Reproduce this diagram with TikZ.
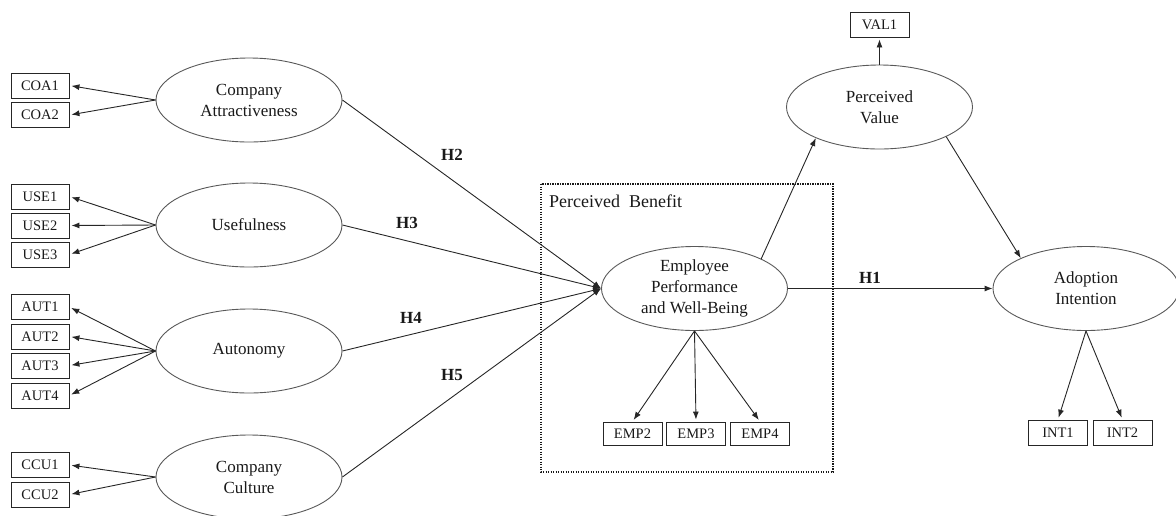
\documentclass[tikz,border=0pt]{standalone}
\usepackage{fontspec}
\setmainfont{Liberation Serif}
\usetikzlibrary{shapes.geometric,arrows.meta}
\begin{document}
\begin{tikzpicture}[x=1pt,y=-1pt,
  latent/.style={ellipse,draw=black!65,line width=0.9pt,minimum width=186pt,minimum height=84pt,
    inner sep=0pt,align=center,text=black!90,font=\fontsize{17}{21}\selectfont},
  indicator/.style={rectangle,draw=black!85,line width=0.9pt,minimum width=58pt,minimum height=25pt,
    inner sep=0pt,text=black!90,font=\fontsize{14.5}{17}\selectfont},
  link/.style={draw=black!85,line width=0.9pt,-{Latex[length=8pt,width=6pt]}},
  loading/.style={link,shorten >=2pt},
  hyp/.style={text=black!90,font=\bfseries\fontsize{17}{20}\selectfont},
  benefit/.style={draw=black!90,line width=1.4pt,dash pattern=on 1.4pt off 1.1pt}
]
\useasboundingbox (0,0) rectangle (1176,515);

% constructs
\node[latent] (ca)  at (249,100)     {Company\\Attractiveness};
\node[latent] (use) at (249,225)     {Usefulness};
\node[latent] (aut) at (249,351)     {Autonomy};
\node[latent] (ccu) at (249,477)     {Company\\Culture};
\node[latent] (emp) at (694.5,288.5) {Employee\\Performance\\and Well-Being};
\node[latent] (pv)  at (879.5,107)   {Perceived\\Value};
\node[latent] (ai)  at (1086,288.5)  {Adoption\\Intention};

% indicators
\node[indicator] (coa1) at (40,85.5)  {COA1};
\node[indicator] (coa2) at (40,115)   {COA2};
\node[indicator] (use1) at (40,196.5) {USE1};
\node[indicator] (use2) at (40,225.5) {USE2};
\node[indicator] (use3) at (40,254.5) {USE3};
\node[indicator] (aut1) at (40,307)   {AUT1};
\node[indicator] (aut2) at (40,336.5) {AUT2};
\node[indicator] (aut3) at (40,365.5) {AUT3};
\node[indicator] (aut4) at (40,395.5) {AUT4};
\node[indicator] (ccu1) at (40,465)   {CCU1};
\node[indicator] (ccu2) at (40,494.5) {CCU2};
\node[indicator,minimum width=59pt,minimum height=23pt] (emp2) at (632.5,433.5) {EMP2};
\node[indicator,minimum width=59pt,minimum height=23pt] (emp3) at (696,433.5)   {EMP3};
\node[indicator,minimum width=59pt,minimum height=23pt] (emp4) at (760,433.5)   {EMP4};
\node[indicator,minimum width=59pt] (val1) at (879.5,24.5) {VAL1};
\node[indicator,minimum width=59pt] (int1) at (1058,432.5)  {INT1};
\node[indicator,minimum width=59pt] (int2) at (1122.5,432.5) {INT2};

% perceived benefit frame
\draw[benefit] (541,184) rectangle (833,472);
\node[anchor=west,inner sep=0pt,text=black!90,font=\fontsize{18}{20}\selectfont] (pblabel) at (549,201) {Perceived\ \ Benefit};

% measurement arrows
\foreach \i in {coa1,coa2} \draw[loading] (ca.west) -- (\i.east);
\foreach \i in {use1,use2,use3} \draw[loading] (use.west) -- (\i.east);
\foreach \i in {aut1,aut2,aut3,aut4} \draw[loading] (aut.west) -- (\i.east);
\foreach \i in {ccu1,ccu2} \draw[loading] (ccu.west) -- (\i.east);
\foreach \i in {emp2,emp3,emp4} \draw[loading] (emp.south) -- (\i.north);
\draw[loading] (pv.north) -- (val1.south);
\foreach \i in {int1,int2} \draw[loading] (ai.south) -- (\i.north);

% structural paths
\draw[link] (ca.east)  -- (emp.west);
\draw[link] (use.east) -- (emp.west);
\draw[link] (aut.east) -- (emp.west);
\draw[link] (ccu.east) -- (emp.west);
\draw[link] (emp.east) -- (ai.west);
\draw[link] (emp.24)   -- (pv.206);
\draw[link] (pv.-24)   -- (ai.155);

% hypothesis labels
\node[hyp] (h2) at (452,155) {H2};
\node[hyp] (h3) at (407,223) {H3};
\node[hyp] (h4) at (411,318) {H4};
\node[hyp] (h5) at (452,375) {H5};
\node[hyp] (h1) at (870,278) {H1};
\end{tikzpicture}
\end{document}
